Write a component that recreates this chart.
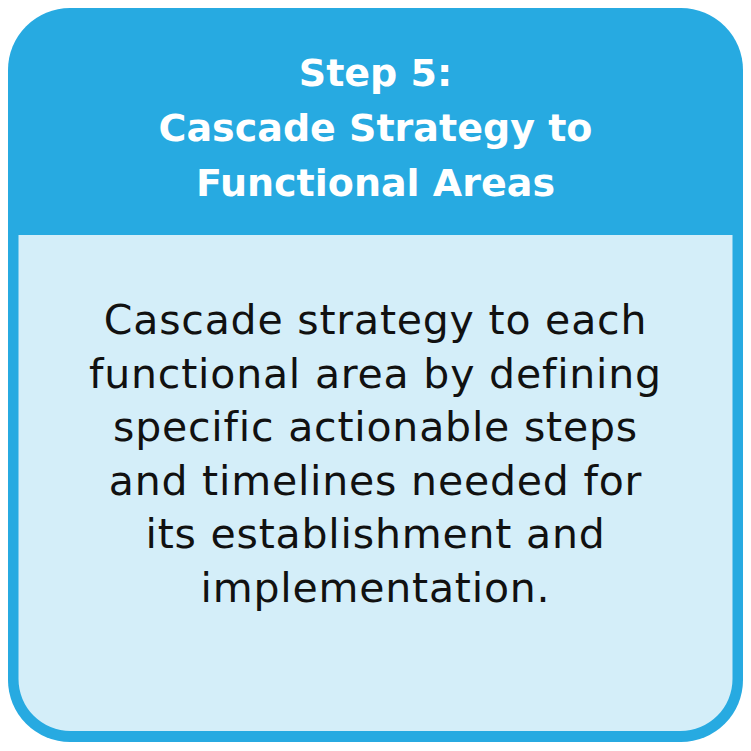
import React from "react";

const titleLines = ["Step 5:", "Cascade Strategy to", "Functional Areas"];
const bodyLines = [
  "Cascade strategy to each",
  "functional area by defining",
  "specific actionable steps",
  "and timelines needed for",
  "its establishment and",
  "implementation.",
];

export default function App() {
  const blue = "#27AAE1";
  const light = "#D4EEF9";
  const x0 = 8, y0 = 8, x1 = 743, y1 = 742, r = 62;
  const ix0 = 18.5, ix1 = 732.5, iy0 = 235, iy1 = 731, ir = 52;
  const inner = `M${ix0},${iy0} H${ix1} V${iy1 - ir} A${ir},${ir} 0 0 1 ${ix1 - ir},${iy1} H${ix0 + ir} A${ir},${ir} 0 0 1 ${ix0},${iy1 - ir} Z`;
  return (
    <svg width={751} height={751} style={{ position: "absolute", left: 0, top: 0 }}>
      <rect x={x0} y={y0} width={x1 - x0} height={y1 - y0} rx={r} fill={blue} />
      <path d={inner} fill={light} />
      {titleLines.map((t, i) => (
        <text key={i} x={375.5} y={86 + i * 55} textAnchor="middle" fill="#fff"
          fontFamily="'DejaVu Sans', sans-serif" fontWeight={700} fontSize={38}>{t}</text>
      ))}
      {bodyLines.map((t, i) => (
        <text key={i} x={375.5} y={334 + i * 53.6} textAnchor="middle" fill="#111"
          fontFamily="'DejaVu Sans', sans-serif" fontWeight={400} fontSize={41} letterSpacing={0.8}>{t}</text>
      ))}
    </svg>
  );
}
